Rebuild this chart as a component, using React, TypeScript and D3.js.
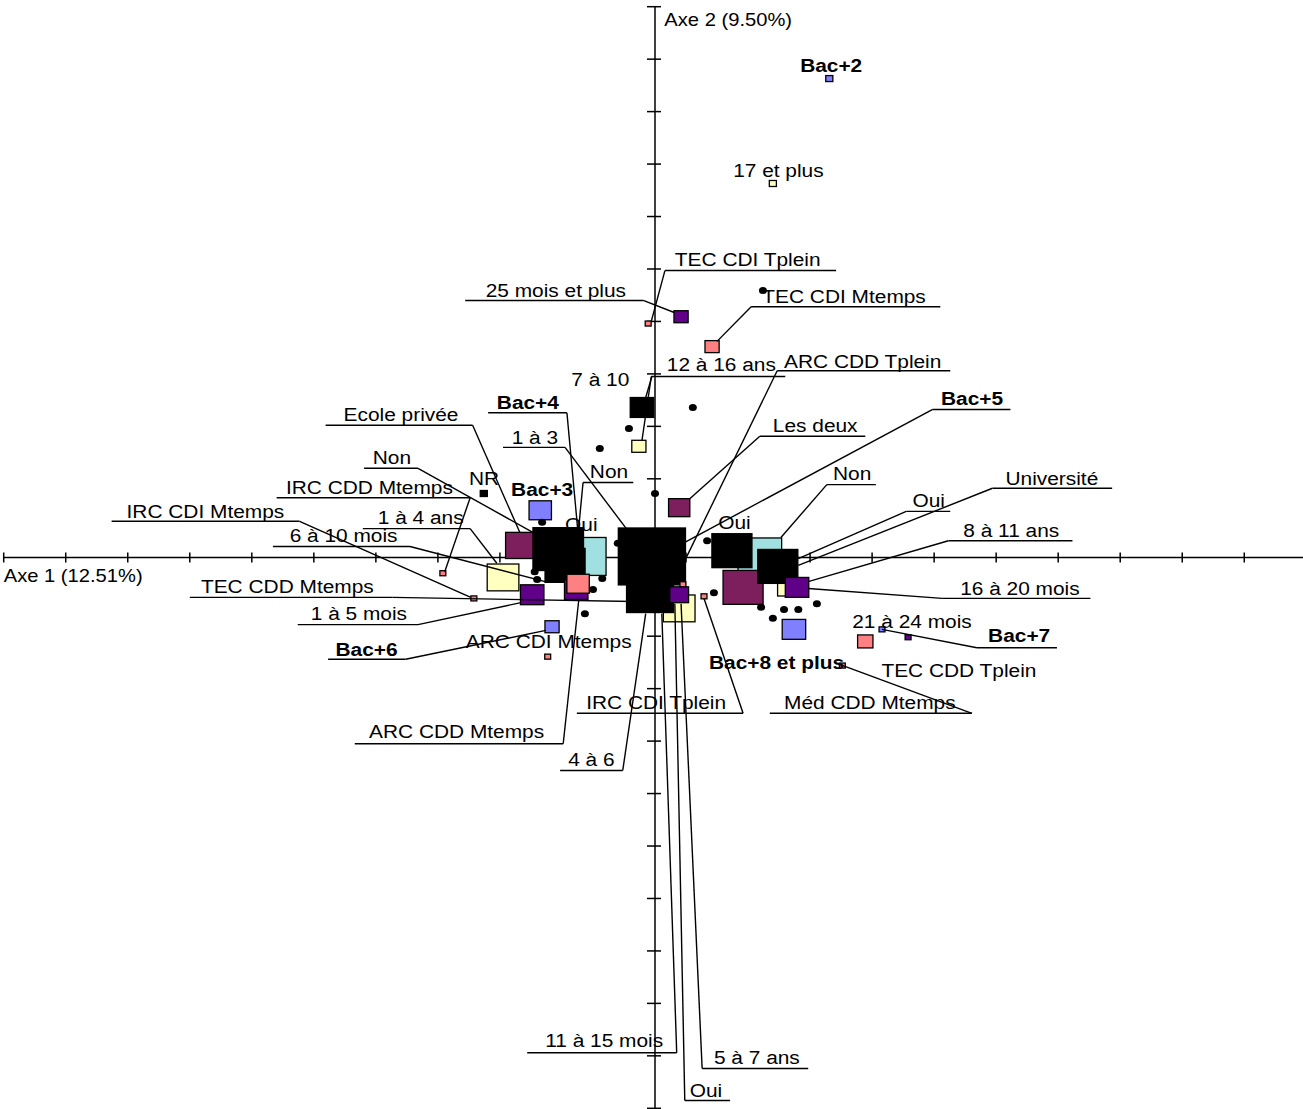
import * as React from 'react';
import * as d3 from 'd3';

// axis titles
const axis1Title = 'Axe 1 (12.51%)';
const axis2Title = 'Axe 2 (9.50%)';

// modalities: [label, axe 1, axe 2, weight]
type Mod = [string, number, number, number];

const formation: Mod[] = [
  ['Ecole privée', -0.216, 0.023, 19],
  ['Les deux', 0.039, 0.095, 9],
  ['Université', 0.142, -0.057, 32],
];

const activite: Mod[] = [
  ['Oui', -0.115, 0.002, 40],
  ['Non', 0.169, 0.002, 38],
];

const anciennete: Mod[] = [
  ['17 et plus', 0.190, 0.713, 1],
  ['12 à 16 ans', -0.026, 0.212, 4],
  ['1 à 4 ans', -0.245, -0.038, 20],
  ['5 à 7 ans', 0.039, -0.097, 20],
  ['8 à 11 ans', 0.210, -0.061, 4.7],
];

const niveauEtudes: Mod[] = [
  ['Bac+2', 0.281, 0.913, 1],
  ['Bac+3', -0.185, 0.090, 10],
  ['Bac+6', -0.166, -0.132, 4],
  ['Bac+7', 0.366, -0.137, 0.7],
  ['Bac+8 et plus', 0.224, -0.137, 11],
];

const autres: Mod[] = [
  ['7 à 10', -0.021, 0.286, 11],
  ['NR', -0.276, 0.122, 1],
  ['1 à 3', -0.156, 0.016, 51],
  ['4 à 6', -0.145, -0.015, 32],
  ['Non', -0.005, 0.002, 90],
  ['Oui', -0.008, -0.067, 44],
  ['Oui ', 0.124, 0.013, 32],
  ['Non ', 0.198, -0.017, 32],
];

const dureeContrat: Mod[] = [
  ['25 mois et plus', 0.042, 0.459, 4],
  ['6 à 10 mois', -0.198, -0.071, 11],
  ['1 à 5 mois', -0.127, -0.061, 11],
  ['11 à 15 mois', 0.039, -0.071, 7],
  ['16 à 20 mois', 0.229, -0.057, 11],
  ['21 à 24 mois', 0.408, -0.152, 0.7],
];

const poste: Mod[] = [
  ['TEC CDI Tplein', -0.011, 0.446, 0.7],
  ['TEC CDI Mtemps', 0.092, 0.402, 4],
  ['IRC CDD Mtemps', -0.342, -0.030, 0.7],
  ['TEC CDD Mtemps', -0.292, -0.078, 0.7],
  ['ARC CDI Mtemps', -0.173, -0.189, 0.7],
  ['IRC CDI Tplein', 0.079, -0.074, 0.7],
  ['Méd CDD Mtemps', 0.302, -0.206, 0.7],
  ['TEC CDD Tplein', 0.339, -0.160, 4.7],
  ['ARC CDD Mtemps', -0.124, -0.050, 10],
  ['ARC CDD Tplein', 0.045, -0.051, 0.7],
];

// individuals: [axe 1, axe 2]
const individus: [number, number][] = [
  [0.174, 0.509], [0.061, 0.286], [-0.042, 0.246], [-0.089, 0.208],
  [0.000, 0.122], [-0.182, 0.067], [-0.060, 0.027], [0.084, 0.032],
  [-0.194, -0.027], [-0.190, -0.042], [-0.085, -0.040], [-0.100, -0.061],
  [-0.113, -0.107], [0.095, -0.067], [0.171, -0.095], [0.208, -0.099],
  [0.231, -0.099], [0.261, -0.088], [0.190, -0.116],
];

// labels: [text, bold, x, y, underline [x1, x2, y] | null, leader [x1, y1, x2, y2] | null]
type Lab = [string, boolean, number, number, number[] | null, number[] | null];
const etiquettes: Lab[] = [
  ['Bac+2', true, 0.234, 0.926, null, null],
  ['17 et plus', false, 0.126, 0.726, null, null],
  ['TEC CDI Tplein', false, 0.032, 0.555, [0.016, 0.292, 0.547], [0.016, 0.547, -0.006, 0.450]],
  ['25 mois et plus', false, -0.273, 0.496, [-0.306, -0.019, 0.490], [-0.019, 0.490, 0.031, 0.467]],
  ['TEC CDI Mtemps', false, 0.173, 0.486, [0.155, 0.460, 0.478], [0.155, 0.478, 0.100, 0.412]],
  ['12 à 16 ans', false, 0.019, 0.355, [-0.006, 0.210, 0.345], [-0.006, 0.345, -0.021, 0.223]],
  ['7 à 10', false, -0.135, 0.326, null, [-0.005, 0.345, -0.015, 0.305]],
  ['ARC CDD Tplein', false, 0.208, 0.362, [0.197, 0.476, 0.356], [0.197, 0.356, 0.048, -0.006]],
  ['Les deux', false, 0.190, 0.240, [0.169, 0.339, 0.231], [0.169, 0.231, 0.056, 0.112]],
  ['Bac+4', true, -0.255, 0.284, [-0.269, -0.142, 0.276], [-0.142, 0.276, -0.124, 0.046]],
  ['Ecole privée', false, -0.502, 0.261, [-0.531, -0.294, 0.252], [-0.294, 0.252, -0.218, 0.048]],
  ['1 à 3', false, -0.231, 0.217, [-0.245, -0.145, 0.210], [-0.145, 0.210, -0.045, 0.053]],
  ['Bac+5', true, 0.461, 0.290, [0.447, 0.573, 0.282], [0.447, 0.282, 0.048, 0.029]],
  ['Non', false, -0.105, 0.152, [-0.116, -0.035, 0.143], [-0.116, 0.143, -0.124, 0.044]],
  ['Non', false, -0.455, 0.179, [-0.469, -0.382, 0.170], [-0.382, 0.170, -0.197, 0.048]],
  ['NR', false, -0.300, 0.139, null, null],
  ['Bac+3', true, -0.232, 0.118, null, null],
  ['IRC CDD Mtemps', false, -0.595, 0.122, [-0.610, -0.298, 0.114], [-0.298, 0.114, -0.339, -0.027]],
  ['IRC CDI Mtemps', false, -0.852, 0.076, [-0.876, -0.573, 0.069], [-0.573, 0.069, -0.297, -0.076]],
  ['1 à 4 ans', false, -0.447, 0.063, [-0.471, -0.298, 0.055], [-0.298, 0.055, -0.255, -0.011]],
  ['6 à 10 mois', false, -0.589, 0.030, [-0.616, -0.395, 0.021], [-0.395, 0.021, -0.177, -0.046]],
  ['TEC CDD Mtemps', false, -0.732, -0.067, [-0.750, -0.423, -0.076], [-0.423, -0.076, -0.035, -0.084]],
  ['1 à 5 mois', false, -0.555, -0.120, [-0.576, -0.382, -0.128], [-0.382, -0.128, -0.216, -0.086]],
  ['Bac+6', true, -0.515, -0.187, [-0.527, -0.402, -0.194], [-0.402, -0.194, -0.176, -0.139]],
  ['ARC CDI Mtemps', false, -0.305, -0.173, null, null],
  ['ARC CDD Mtemps', false, -0.461, -0.345, [-0.484, -0.148, -0.355], [-0.148, -0.355, -0.123, -0.082]],
  ['4 à 6', false, -0.140, -0.398, [-0.153, -0.052, -0.406], [-0.052, -0.406, -0.015, -0.107]],
  ['IRC CDI Tplein', false, -0.111, -0.288, [-0.126, 0.142, -0.297], [0.142, -0.297, 0.079, -0.078]],
  ['Bac+8 et plus', true, 0.087, -0.213, null, null],
  ['TEC CDD Tplein', false, 0.365, -0.227, null, null],
  ['Méd CDD Mtemps', false, 0.208, -0.288, [0.185, 0.511, -0.297], [0.511, -0.297, 0.303, -0.206]],
  ['21 à 24 mois', false, 0.318, -0.135, null, null],
  ['Bac+7', true, 0.537, -0.162, [0.519, 0.648, -0.172], [0.519, -0.172, 0.366, -0.137]],
  ['16 à 20 mois', false, 0.492, -0.071, [0.463, 0.702, -0.078], [0.463, -0.078, 0.247, -0.059]],
  ['8 à 11 ans', false, 0.497, 0.040, [0.473, 0.673, 0.032], [0.473, 0.032, 0.247, -0.046]],
  ['Université', false, 0.565, 0.139, [0.544, 0.737, 0.132], [0.544, 0.132, 0.231, -0.015]],
  ['Oui', false, 0.415, 0.097, [0.405, 0.476, 0.088], [0.405, 0.088, 0.231, -0.002]],
  ['Non', false, 0.287, 0.147, [0.277, 0.356, 0.139], [0.277, 0.139, 0.203, 0.038]],
  ['Oui', false, 0.102, 0.055, null, null],
  ['Oui', false, -0.145, 0.050, null, null],
  ['11 à 15 mois', false, -0.177, -0.934, [-0.206, 0.035, -0.944], [0.035, -0.944, 0.011, -0.107]],
  ['Oui', false, 0.056, -1.029, [0.048, 0.121, -1.035], [0.048, -1.035, 0.032, -0.088]],
  ['5 à 7 ans', false, 0.095, -0.965, [0.076, 0.247, -0.974], [0.076, -0.974, 0.042, -0.088]],
];

const axisTicks = d3.range(22).map((i) => -1.05 + i * 0.1);

const width = 1303;
const height = 1109;
const font = '"Liberation Sans", Arial, sans-serif';

export default function App() {
  const x = d3.scaleLinear().domain([-1.05, 1.05]).range([3.7, 1306.3]);
  const y = d3.scaleLinear().domain([1.05, -1.05]).range([6.7, 1108.3]);
  const size = d3.scaleSqrt().domain([0, 100]).range([0, 60]);
  const aspect = 1.18;

  // drawing order matters, big black ones cover the others
  const groups: { mods: Mod[]; color: string }[] = [
    { mods: activite, color: '#a0e0e0' },
    { mods: formation, color: '#7d1f5c' },
    { mods: anciennete, color: '#ffffc0' },
    { mods: niveauEtudes, color: '#8080ff' },
    { mods: autres, color: '#000000' },
    { mods: dureeContrat, color: '#600088' },
    { mods: poste, color: '#ff8080' },
  ];

  const x0 = x(0);
  const y0 = y(0);

  return (
    <div style={{ position: 'absolute', left: 0, top: 0 }}>
      <svg width={width} height={height} style={{ display: 'block', background: '#fff' }}>
        {/* axes */}
        <g stroke="#000" strokeWidth={1.5}>
          <line x1={x(-1.05)} x2={width} y1={y0} y2={y0} />
          <line x1={x0} x2={x0} y1={y(1.05)} y2={y(-1.05)} />
          {axisTicks.map((t, i) => (
            <line key={'tx' + i} x1={x(t)} x2={x(t)} y1={y0 - 5} y2={y0 + 5} />
          ))}
          {axisTicks.map((t, i) => (
            <line key={'ty' + i} x1={x0 - 8} x2={x0 + 6} y1={y(t)} y2={y(t)} />
          ))}
        </g>

        {groups.map((g, gi) => (
          <g key={gi}>
            {g.mods.map((m, i) => {
              const h = size(m[3]);
              const w = h * aspect;
              return (
                <rect
                  key={i}
                  x={x(m[1]) - w / 2}
                  y={y(m[2]) - h / 2}
                  width={w}
                  height={h}
                  fill={g.color}
                  stroke="#000"
                  strokeWidth={1.3}
                />
              );
            })}
          </g>
        ))}

        {individus.map((d, i) => (
          <ellipse key={i} cx={x(d[0])} cy={y(d[1])} rx={4} ry={3.5} fill="#000" />
        ))}

        {/* leaders and underlines */}
        <g stroke="#000" strokeWidth={1.4} fill="none">
          {etiquettes.map((l, i) => (
            <g key={i}>
              {l[4] && <line x1={x(l[4][0])} x2={x(l[4][1])} y1={y(l[4][2])} y2={y(l[4][2])} />}
              {l[5] && <line x1={x(l[5][0])} y1={y(l[5][1])} x2={x(l[5][2])} y2={y(l[5][3])} />}
            </g>
          ))}
        </g>

        <g fontFamily={font} fontSize={18} fill="#000">
          {etiquettes.map((l, i) => (
            <text
              key={i}
              transform={`translate(${x(l[2])},${y(l[3])}) scale(1.16,1)`}
              fontWeight={l[1] ? 'bold' : 'normal'}
            >
              {l[0]}
            </text>
          ))}
          <text transform={`translate(${x(-1.05)},${y(-0.046)}) scale(1.12,1)`}>{axis1Title}</text>
          <text transform={`translate(${x(0.015)},${y(1.014)}) scale(1.12,1)`}>{axis2Title}</text>
        </g>
      </svg>
    </div>
  );
}
